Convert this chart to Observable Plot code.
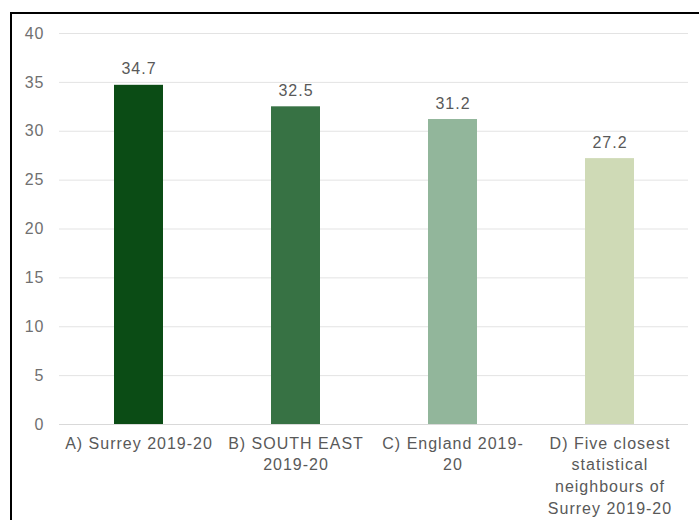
<!DOCTYPE html>
<html>
<head>
<meta charset="utf-8">
<script src="https://cdn.jsdelivr.net/npm/d3@7"></script>
<script src="https://cdn.jsdelivr.net/npm/@observablehq/plot@0.6"></script>
<style>
  body { margin: 0; background: #fff; }
  #wrap { position: relative; width: 699px; height: 520px; overflow: hidden; }
  #frame { position: absolute; left: 10px; top: 12px; width: 720px; height: 600px; border: 2px solid #000; box-sizing: border-box; pointer-events: none; }
  #chart { position: absolute; left: 0; top: 0; }
  #chart svg text { letter-spacing: 1px; }
</style>
</head>
<body>
<div id="wrap">
  <div id="chart"></div>
  <div id="frame"></div>
</div>
<script>
const categories = ["A) Surrey 2019-20", "B) SOUTH EAST 2019-20", "C) England 2019-20", "D) Five closest statistical neighbours of Surrey 2019-20"];
const tickLabels = ["A) Surrey 2019-20", "B) SOUTH EAST\n2019-20", "C) England 2019-\n20", "D) Five closest\nstatistical\nneighbours of\nSurrey 2019-20"];
const values = [34.7, 32.5, 31.2, 27.2];
const colors = ["#0b4c15", "#377244", "#92b69b", "#cfdab6"];
const yTicks = [0, 5, 10, 15, 20, 25, 30, 35, 40];

const data = categories.map((c, i) => ({category: c, value: values[i], color: colors[i]}));
const labelOf = new Map(categories.map((c, i) => [c, tickLabels[i]]));

const chart = Plot.plot({
  width: 699,
  height: 520,
  marginTop: 33,
  marginBottom: 96,
  marginLeft: 59,
  marginRight: 11,
  style: {fontFamily: "'Liberation Sans', Arial, sans-serif", fontSize: "16px", color: "#595959", background: "transparent"},
  x: {domain: categories, paddingInner: 0.69, paddingOuter: 0.345, label: null},
  y: {domain: [0, 40], label: null},
  marks: [
    Plot.gridY(yTicks, {stroke: "#e3e3e3", strokeOpacity: 1, strokeWidth: 1}),
    Plot.ruleY([0], {stroke: "#d9d9d9", strokeWidth: 1}),
    Plot.axisY(yTicks, {tickSize: 0, tickPadding: 15, fontSize: 16, fill: "#707070", label: null}),
    Plot.axisX({tickSize: 0, tickPadding: 9, fontSize: 16, fill: "#595959", lineHeight: 1.35, tickFormat: d => labelOf.get(d), label: null}),
    Plot.barY(data, {x: "category", y: "value", fill: "color"}),
    Plot.text(data, {x: "category", y: "value", text: d => d.value.toFixed(1), dy: -11, lineAnchor: "bottom", fontSize: 16, fill: "#595959"})
  ]
});
document.getElementById("chart").appendChild(chart);
</script>
</body>
</html>
